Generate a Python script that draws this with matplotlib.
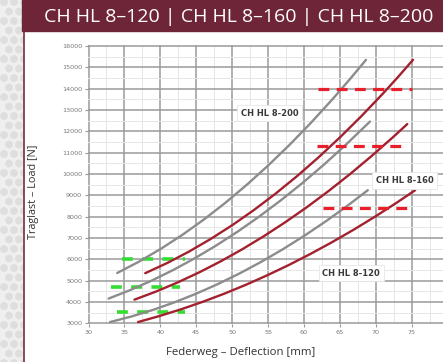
import matplotlib.pyplot as plt
from matplotlib.patches import Rectangle, Circle

# deflection [mm] / load [N]
x_200_gray = [34.0, 37, 40, 43, 46, 49, 52, 55, 58, 61, 64, 66.5, 68.65]
y_200_gray = [5360, 5886, 6477, 7130, 7849, 8632, 9480, 10391, 11366, 12407, 13511, 14481, 15350]
x_200_red = [37.9, 41, 44, 47, 50, 53, 56, 59, 62, 65, 68, 71, 73, 75.2]
y_200_red = [5350, 5834, 6363, 6950, 7596, 8301, 9064, 9887, 10768, 11709, 12708, 13766, 14504, 15350]

x_160_gray = [32.8, 35.8, 38.8, 41.8, 44.8, 47.8, 50.8, 53.8, 56.8, 59.8, 62.8, 65.8, 69.2]
y_160_gray = [4160, 4558, 5003, 5500, 6049, 6651, 7305, 8011, 8769, 9579, 10442, 11357, 12457]
x_160_red = [36.4, 39.4, 42.4, 45.4, 48.4, 51.4, 54.4, 57.4, 60.4, 63.4, 66.4, 69.4, 72.4, 74.4]
y_160_red = [4110, 4489, 4914, 5386, 5904, 6469, 7080, 7738, 8441, 9192, 9989, 10833, 11722, 12340]

x_120_gray = [33.0, 36, 39, 42, 45, 48, 51, 54, 57, 60, 63, 66, 68.9]
y_120_gray = [3060, 3323, 3632, 3988, 4390, 4838, 5332, 5872, 6459, 7091, 7770, 8495, 9240]
x_120_red = [36.9, 39.9, 42.9, 45.9, 48.9, 51.9, 54.9, 57.9, 60.9, 63.9, 66.9, 69.9, 72.9, 75.5]
y_120_red = [3060, 3345, 3659, 4008, 4389, 4803, 5253, 5734, 6251, 6800, 7382, 7999, 8649, 9240]

# max load (red dashed) and preload (green dashed) markers
max_loads = [14000, 11300, 8400]
max_from = [61.9, 61.8, 62.7]
max_to = [75.1, 74.3, 75.2]
pre_loads = [6000, 4700, 3530]
pre_from = [34.6, 33.2, 33.9]
pre_to = [43.4, 42.8, 43.4]

labels = ["CH HL 8-200", "CH HL 8-160", "CH HL 8-120"]
label_x = [55.2, 74.0, 66.6]
label_y = [12850, 9700, 5350]

title = "CH HL 8\u2013120 | CH HL 8\u2013160 | CH HL 8\u2013200"

W, H = 443, 362
fig = plt.figure(figsize=(W / 100, H / 100), dpi=100)

# page background with dot pattern
bg = fig.add_axes([0, 0, 1, 1])
bg.set_xlim(0, W)
bg.set_ylim(H, 0)
bg.axis('off')
bg.add_patch(Rectangle((0, 0), W, H, color='#efefef'))
for row in range(40):
    for col in range(3):
        cx = 4 + col * 10 + (5 if row % 2 else 0)
        cy = 2 + row * 9.5
        bg.add_patch(Circle((cx, cy), 3.2, color='#dedede'))
bg.add_patch(Rectangle((24, 31), W - 24, H - 31, color='white'))
bg.plot([24.5, 24.5], [31, H], color='#7a2a3c', lw=1.2)
bg.add_patch(Rectangle((22, 0), W - 22, 31, color='#6f2538'))
bg.text(44, 17, title, color='white', fontsize=14, family='Open Sans',
        va='center', ha='left')
bg.text(241, 352, "Federweg \u2013 Deflection [mm]", color='#333333', fontsize=8.2,
        family='Open Sans', ha='center', va='center')
bg.text(34, 192, "Traglast \u2013 Load [N]", color='#333333', fontsize=7.8,
        family='Open Sans', ha='center', va='center', rotation=90)

ax = fig.add_axes([87.8 / W, (H - 324.4) / H, 364 / W, (324.4 - 44.9) / H])
ax.set_xlim(29.9, 80.6)
ax.set_ylim(2950, 16050)
ax.set_facecolor('none')
for s in ax.spines.values():
    s.set_visible(False)

ax.set_xticks(range(30, 81, 5))
ax.set_yticks(range(3000, 16001, 1000))
ax.set_xticks([x + 2.5 for x in range(30, 80, 5)], minor=True)
ax.set_yticks([y + 500 for y in range(3000, 16000, 1000)], minor=True)
ax.grid(True, which='major', color='#9a9a9a', lw=1.1)
ax.grid(True, which='minor', color='#e6e6e6', lw=0.7)
ax.tick_params(which='major', labelsize=4.6, labelcolor='#777777', length=2,
               color='#999999', pad=2)
ax.tick_params(which='minor', length=0)
ax.set_axisbelow(True)

gray = '#8c8c8c'
red = '#a3212e'
for xs, ys, c in [(x_200_gray, y_200_gray, gray), (x_200_red, y_200_red, red),
                  (x_160_gray, y_160_gray, gray), (x_160_red, y_160_red, red),
                  (x_120_gray, y_120_gray, gray), (x_120_red, y_120_red, red)]:
    ax.plot(xs, ys, color=c, lw=1.7, solid_capstyle='round',
            solid_joinstyle='round', zorder=3)

for y, a, b in zip(max_loads, max_from, max_to):
    ax.plot([a, b], [y, y], color='#e8202c', lw=2.3, dashes=(3.4, 2.3), zorder=4)
for y, a, b in zip(pre_loads, pre_from, pre_to):
    ax.plot([a, b], [y, y], color='#33dd33', lw=2.6, dashes=(3.0, 2.6), zorder=2)

for t, lx, ly in zip(labels, label_x, label_y):
    ax.text(lx, ly, t, fontsize=6.0, fontweight='bold', color='#3a3a3a',
            ha='center', va='center', zorder=5,
            bbox=dict(boxstyle='square,pad=0.45', fc='white', ec='#e6e6e6', lw=0.6))

fig.savefig('out.png', dpi=100)
